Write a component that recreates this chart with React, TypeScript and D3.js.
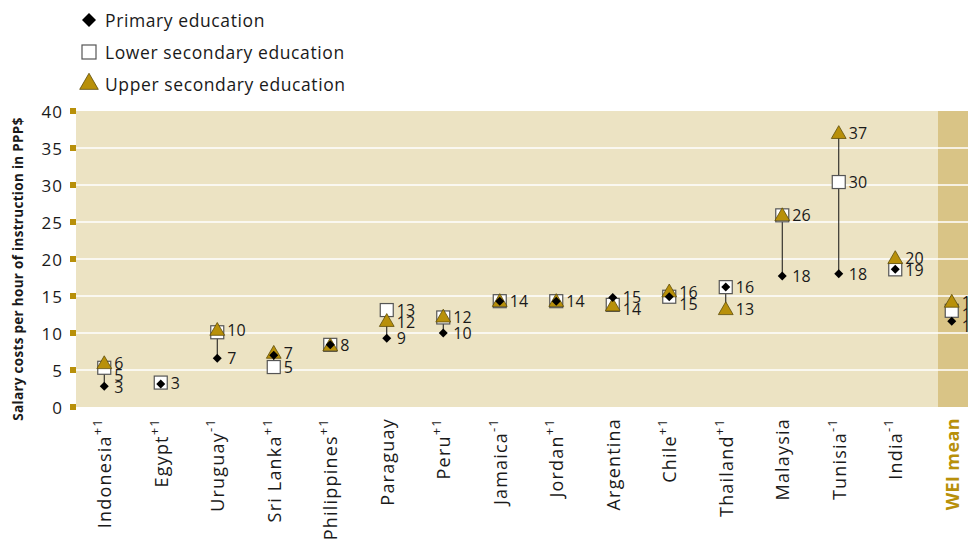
import React from "react";
import * as d3 from "d3";

const countries = [
  "Indonesia", "Egypt", "Uruguay", "Sri Lanka", "Philippines", "Paraguay", "Peru", "Jamaica",
  "Jordan", "Argentina", "Chile", "Thailand", "Malaysia", "Tunisia", "India", "WEI mean",
];
const superscripts = ["+1", "+1", "-1", "+1", "+1", "", "+1", "-1", "+1", "", "+1", "+1", "", "-1", "-1", ""];

// salary costs per hour of instruction (PPP$)
const primary = [2.8, 3.1, 6.6, 7.0, 8.4, 9.3, 10.0, 14.3, 14.3, 14.8, 14.9, 16.2, 17.7, 18.0, 18.6, 11.6];
const lowerSec = [5.3, 3.3, 10.1, 5.4, 8.4, 13.1, 12.1, 14.3, 14.3, 13.8, 14.9, 16.2, 25.9, 30.4, 18.6, 13.0];
const upperSec = [5.9, null, 10.4, 7.3, 8.3, 11.6, 12.2, 14.3, 14.3, 13.7, 15.6, 13.2, 25.9, 37.0, 20.1, 14.2];

const yTicks = [0, 5, 10, 15, 20, 25, 30, 35, 40];

const W = 968;
const H = 545;
const GOLD = "#b8900a";
const BG = "#ece3c3";
const WEI_BG = "#d9c486";
const FONT = "'Open Sans', sans-serif";

const plot = { left: 76, right: 968, top: 111, bottom: 407 };

const x = d3.scaleBand<string>().domain(countries).range([plot.left, plot.left + 16 * 56.5]);
const y = d3.scaleLinear().domain([0, 40]).range([plot.bottom, plot.top]);

const tri = (size: number) => d3.symbol().type(d3.symbolTriangle).size(size)();
const dia = (s: number) => `M0,${-s}L${s},0L0,${s}L${-s},0Z`;

function Square({ cx, cy, s = 13 }: { cx: number; cy: number; s?: number }) {
  return <rect x={cx - s / 2} y={cy - s / 2} width={s} height={s} fill="#fff" stroke="#555" strokeWidth={1.2} />;
}
function Triangle({ cx, cy, size = 95 }: { cx: number; cy: number; size?: number }) {
  return <path d={tri(size)} transform={`translate(${cx},${cy + 1})`} fill={GOLD} stroke="#5e4c0a" strokeWidth={0.8} />;
}
function Diamond({ cx, cy, r = 4.5 }: { cx: number; cy: number; r?: number }) {
  return <path d={dia(r)} transform={`translate(${cx},${cy})`} fill="#000" />;
}

export default function App() {
  return (
    <svg width={W} height={H} style={{ position: "absolute", left: 0, top: 0 }} fontFamily={FONT}>
      {/* legend */}
      <g fontSize={17.5} letterSpacing={0.6} fill="#1a1a1a">
        <Diamond cx={89} cy={20} r={7} />
        <text x={105} y={20} dominantBaseline="central">Primary education</text>
        <Square cx={89} cy={52} s={14} />
        <text x={105} y={52} dominantBaseline="central">Lower secondary education</text>
        <Triangle cx={89} cy={83} size={150} />
        <text x={105} y={84} dominantBaseline="central">Upper secondary education</text>
      </g>

      {/* plot background */}
      <rect x={plot.left} y={plot.top} width={plot.right - plot.left} height={plot.bottom - plot.top} fill={BG} />
      <rect x={938} y={plot.top} width={plot.right - 938} height={plot.bottom - plot.top} fill={WEI_BG} />

      {/* grid + y axis */}
      {yTicks.map((t) => (
        <g key={t}>
          {t > 0 && t < 40 && (
            <line x1={plot.left} x2={plot.right} y1={y(t)} y2={y(t)} stroke="#fff" strokeWidth={1.5} />
          )}
          <rect x={70} y={y(t) - 3} width={6} height={6} fill={GOLD} />
          <text x={63} y={y(t)} textAnchor="end" dominantBaseline="central" fontSize={17} letterSpacing={1} fill="#1a1a1a">
            {t}
          </text>
        </g>
      ))}
      <text
        transform={`translate(18,${(plot.top + plot.bottom) / 2 + 10}) rotate(-90)`}
        textAnchor="middle"
        dominantBaseline="central"
        fontSize={13.5}
        letterSpacing={0.3}
        fontWeight="bold"
        fill="#1a1a1a"
      >
        Salary costs per hour of instruction in PPP$
      </text>

      {/* data */}
      {countries.map((c, i) => {
        const cx = (x(c) as number) + x.bandwidth() / 2;
        const vals = [upperSec[i], lowerSec[i], primary[i]].filter((v) => v !== null) as number[];
        const lo = d3.min(vals) as number;
        const hi = d3.max(vals) as number;
        // one label per distinct rounded value, nudged apart vertically
        const uniq: number[] = [];
        vals
          .slice()
          .sort((a, b) => b - a)
          .forEach((v) => {
            if (!uniq.some((u) => Math.round(u) === Math.round(v))) uniq.push(v);
          });
        const labelYs: number[] = [];
        uniq.forEach((v, k) => {
          let ly = y(v);
          if (k > 0 && ly - labelYs[k - 1] < 12) ly = labelYs[k - 1] + 12;
          labelYs.push(ly);
        });
        return (
          <g key={c}>
            <line x1={cx} x2={cx} y1={y(lo)} y2={y(hi)} stroke="#111" strokeWidth={1} />
            <Square cx={cx} cy={y(lowerSec[i])} />
            {upperSec[i] !== null && <Triangle cx={cx} cy={y(upperSec[i] as number)} />}
            <Diamond cx={cx} cy={y(primary[i])} />
            {uniq.map((v, k) => (
              <text key={k} x={cx + 10} y={labelYs[k]} dominantBaseline="central" fontSize={16} fill="#1a1a1a">
                {Math.round(v)}
              </text>
            ))}
          </g>
        );
      })}

      {/* x labels */}
      {countries.map((c, i) => {
        const cx = (x(c) as number) + x.bandwidth() / 2;
        const wei = c === "WEI mean";
        return (
          <text
            key={c}
            transform={`translate(${cx},418) rotate(-90)`}
            textAnchor="end"
            dominantBaseline="central"
            fontSize={18}
            letterSpacing={wei ? 0.4 : 1.2}
            fontWeight={wei ? "bold" : "normal"}
            fill={wei ? GOLD : "#1a1a1a"}
          >
            {c}
            {superscripts[i] && (
              <tspan dy={-7} fontSize={13}>
                {superscripts[i]}
              </tspan>
            )}
          </text>
        );
      })}
    </svg>
  );
}
